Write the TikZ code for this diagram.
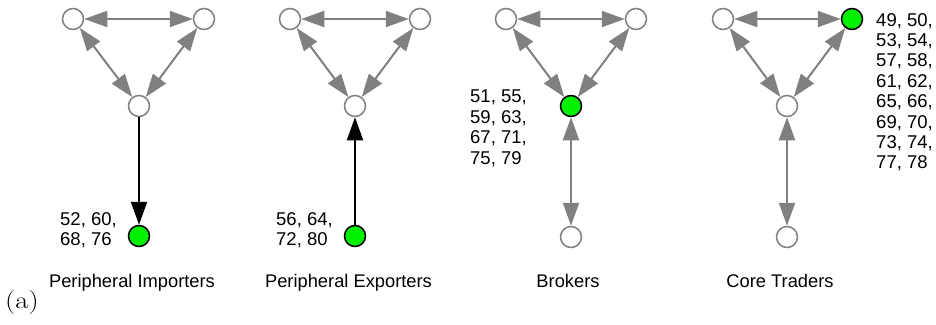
\documentclass[tikz,border=0pt]{standalone}
\usepackage{fontspec}
\setsansfont{Liberation Sans}
\usetikzlibrary{arrows.meta}
\definecolor{gr}{RGB}{128,128,128}
\definecolor{lime}{RGB}{0,240,0}
\tikzset{
  nd/.style={circle, draw=gr, line width=1.5pt, fill=white, minimum size=21pt, inner sep=0pt},
  gn/.style={nd, draw=black, fill=lime},
  ga/.style={draw=gr, line width=2pt, {Triangle[length=23pt,width=16pt]}-{Triangle[length=23pt,width=16pt]}},
  ba/.style={draw=black, line width=2pt, -{Triangle[length=23pt,width=16pt]}},
  num/.style={anchor=north west, inner sep=0pt, align=left, font=\sffamily\fontsize{18.5}{20.4}\selectfont},
  lab/.style={anchor=base, inner sep=0pt, font=\sffamily\fontsize{18.3}{20}\selectfont},
}
\begin{document}
\begin{tikzpicture}[x=1pt,y=-1pt]
\useasboundingbox (0,0) rectangle (936,324);
% Panel 1
\node[nd] (a1) at (73,19) {};
\node[nd] (b1) at (204,19) {};
\node[nd] (c1) at (139,106) {};
\node[gn] (d1) at (139,236) {};
\draw[ga] (a1) -- (b1);
\draw[ga] (a1) -- (c1);
\draw[ga] (b1) -- (c1);
\draw[ba] (c1) -- (d1);
\node[num] (t1) at (60,212) {52, 60,\\68, 76};
\node[lab] (l1) at (132,287) {Peripheral Importers};
% Panel 2
\node[nd] (a2) at (290,19) {};
\node[nd] (b2) at (420,19) {};
\node[nd] (c2) at (355,106) {};
\node[gn] (d2) at (355,236) {};
\draw[ga] (a2) -- (b2);
\draw[ga] (a2) -- (c2);
\draw[ga] (b2) -- (c2);
\draw[ba] (d2) -- (c2);
\node[num] (t2) at (276,212) {56, 64,\\72, 80};
\node[lab] (l2) at (348.5,287) {Peripheral Exporters};
% Panel 3
\node[nd] (a3) at (506,19) {};
\node[nd] (b3) at (636,19) {};
\node[gn] (c3) at (571,106) {};
\node[nd] (d3) at (571,237) {};
\draw[ga] (a3) -- (b3);
\draw[ga] (a3) -- (c3);
\draw[ga] (b3) -- (c3);
\draw[ga] (c3) -- (d3);
\node[num] (t3) at (470,90) {51, 55,\\59, 63,\\67, 71,\\75, 79};
\node[lab] (l3) at (568,287) {Brokers};
% Panel 4
\node[nd] (a4) at (723,19) {};
\node[gn] (b4) at (852,19) {};
\node[nd] (c4) at (787,106) {};
\node[nd] (d4) at (787,237) {};
\draw[ga] (a4) -- (b4);
\draw[ga] (a4) -- (c4);
\draw[ga] (b4) -- (c4);
\draw[ga] (c4) -- (d4);
\node[num] (t4) at (876,13) {49, 50,\\53, 54,\\57, 58,\\61, 62,\\65, 66,\\69, 70,\\73, 74,\\77, 78};
\node[lab] (l4) at (780,287) {Core Traders};
% tag
\node[anchor=base west, inner sep=0pt, font=\fontsize{24}{26}\selectfont] (tag) at (5,308) {\scalebox{1.2}[1]{(a)}};
\end{tikzpicture}
\end{document}
